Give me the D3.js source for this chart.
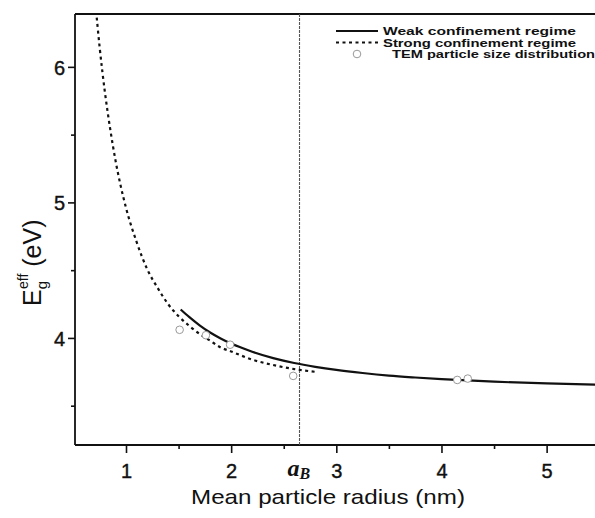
<!DOCTYPE html>
<html><head><meta charset="utf-8">
<script src="https://cdn.jsdelivr.net/npm/d3@7"></script>
<style>html,body{margin:0;padding:0;background:#fff;}</style>
</head><body>
<svg id="c" width="595" height="518"></svg>
<script>
// ---- data ----
const strongR = [0.71,0.75,0.8,0.85,0.9,0.95,1.0,1.1,1.2,1.3,1.4,1.5,1.6,1.7,1.8,1.9,2.0,2.2,2.4,2.6,2.8];
const strongE = [6.46,6.14,5.81,5.54,5.31,5.12,4.96,4.71,4.51,4.37,4.25,4.16,4.09,4.03,3.98,3.93,3.90,3.84,3.80,3.77,3.75];
const weakR = [1.52,1.6,1.7,1.8,1.9,2.0,2.2,2.4,2.6,2.8,3.0,3.25,3.5,3.75,4.0,4.5,5.0,5.5];
const weakE = [4.21,4.155,4.093,4.04,3.996,3.958,3.898,3.851,3.815,3.787,3.764,3.741,3.722,3.708,3.696,3.677,3.664,3.654];
const temR = [1.51,1.76,1.99,2.59,4.15,4.25];
const temE = [4.06,4.02,3.95,3.72,3.69,3.70];
const aB = 2.65;
const xTickLabels = [1,2,3,4,5];
const yTickLabels = [4,5,6];
const legendLabels = ["Weak confinement regime","Strong confinement regime","TEM particle size distribution"];

const svg = d3.select("#c");
const L = 75, R = 595, T = 14, B = 445;
const x = d3.scaleLinear().domain([0.515, 5.46]).range([L, R]);
const y = d3.scaleLinear().domain([3.21, 6.39]).range([B, T]);
const font = "'Liberation Sans', Arial, sans-serif";

svg.append("defs").append("clipPath").attr("id","clip")
  .append("rect").attr("x",L).attr("y",T).attr("width",R-L).attr("height",B-T);

// axes
const xMajor = d3.axisBottom(x).tickValues(xTickLabels).tickSize(8).tickFormat(d3.format("d"));
const xMinor = d3.axisBottom(x).tickValues(d3.range(0.5,5.6,0.5).filter(v=>v%1!==0 && v>0.52)).tickSize(4).tickFormat("");
const yMajor = d3.axisLeft(y).tickValues(yTickLabels).tickSize(7).tickFormat(d3.format("d"));
const yMinor = d3.axisLeft(y).tickValues([3.5,4.5,5.5]).tickSize(4).tickFormat("");

function styleAxis(g){
  g.select(".domain").remove();
  g.selectAll(".tick line").attr("stroke","#111").attr("stroke-width",1.6);
  g.selectAll("text").attr("font-family",font).attr("font-size",20).attr("fill","#111")
    .attr("stroke","#111").attr("stroke-width",0.4);
}
const gx = svg.append("g").attr("transform",`translate(0,${B})`).call(xMajor).call(styleAxis);
gx.selectAll("text").attr("dy",null).attr("y",33);
svg.append("g").attr("transform",`translate(0,${B})`).call(xMinor).call(styleAxis);
const gy = svg.append("g").attr("transform",`translate(${L},0)`).call(yMajor).call(styleAxis);
gy.selectAll("text").attr("x",-10).attr("dy","0.36em");
svg.append("g").attr("transform",`translate(${L},0)`).call(yMinor).call(styleAxis);

// frame
svg.append("line").attr("x1",L).attr("x2",R).attr("y1",B).attr("y2",B).attr("stroke","#111").attr("stroke-width",1.8);
svg.append("line").attr("x1",L).attr("x2",R).attr("y1",T).attr("y2",T).attr("stroke","#111").attr("stroke-width",1.8);
svg.append("line").attr("x1",L).attr("x2",L).attr("y1",T).attr("y2",B).attr("stroke","#111").attr("stroke-width",1.8);

// a_B vertical line
svg.append("line").attr("x1",x(aB)).attr("x2",x(aB)).attr("y1",T).attr("y2",B)
  .attr("stroke","#555").attr("stroke-width",1.1).attr("stroke-dasharray","3,1");

const plot = svg.append("g").attr("clip-path","url(#clip)");
const line = d3.line().curve(d3.curveMonotoneX).x(d=>x(d[0])).y(d=>y(d[1]));
plot.append("path").datum(strongR.map((r,i)=>[r,strongE[i]])).attr("d",line)
  .attr("fill","none").attr("stroke","#111").attr("stroke-width",2.2).attr("stroke-dasharray","3,3.5");
plot.append("path").datum(weakR.map((r,i)=>[r,weakE[i]])).attr("d",line)
  .attr("fill","none").attr("stroke","#111").attr("stroke-width",2.2);
plot.selectAll("circle.tem").data(temR.map((r,i)=>[r,temE[i]])).join("circle").attr("class","tem")
  .attr("cx",d=>x(d[0])).attr("cy",d=>y(d[1])).attr("r",3.8)
  .attr("fill","#fff").attr("stroke","#999").attr("stroke-width",1);

// a_B label
const ab = svg.append("text").attr("x",x(aB)-12).attr("y",476)
  .attr("font-family","'Liberation Serif','DejaVu Serif',serif").attr("font-weight","bold").attr("font-style","italic").attr("fill","#111");
ab.append("tspan").attr("font-size",24).text("a");
ab.append("tspan").attr("font-size",16).attr("dy",3).text("B");

// x title
svg.append("text").attr("x",328).attr("y",504).attr("text-anchor","middle")
  .attr("font-family",font).attr("font-size",21).attr("fill","#111")
  .attr("textLength",274).attr("lengthAdjust","spacingAndGlyphs")
  .text("Mean particle radius (nm)");

// y title
const yt = svg.append("text").attr("transform","translate(41,306) rotate(-90)")
  .attr("font-family",font).attr("fill","#111");
yt.append("tspan").attr("font-size",25).text("E");
yt.append("tspan").attr("font-size",15).attr("dy",6).text("g");
yt.append("tspan").attr("font-size",14).attr("dx",-8).attr("dy",-19).text("eff");
yt.append("tspan").attr("font-size",25).attr("dy",13).text(" (eV)");

// legend
const lg = svg.append("g").attr("font-family",font).attr("font-size",11.5).attr("font-weight","bold").attr("fill","#111");
const rows = [31,42.5,54];
lg.append("line").attr("x1",336).attr("x2",378).attr("y1",rows[0]).attr("y2",rows[0]).attr("stroke","#111").attr("stroke-width",2);
lg.append("line").attr("x1",336).attr("x2",378).attr("y1",rows[1]).attr("y2",rows[1]).attr("stroke","#111").attr("stroke-width",2).attr("stroke-dasharray","3,3.5");
lg.append("circle").attr("cx",357).attr("cy",rows[2]).attr("r",3.8).attr("fill","#fff").attr("stroke","#999").attr("stroke-width",1);
const lens = [193,193,203];
const xs = [383,383,392];
legendLabels.forEach((t,i)=>{
  lg.append("text").attr("x",xs[i]).attr("y",rows[i]).attr("dy","0.36em")
    .attr("textLength",lens[i]).attr("lengthAdjust","spacingAndGlyphs").text(t);
});
</script>
</body></html>
